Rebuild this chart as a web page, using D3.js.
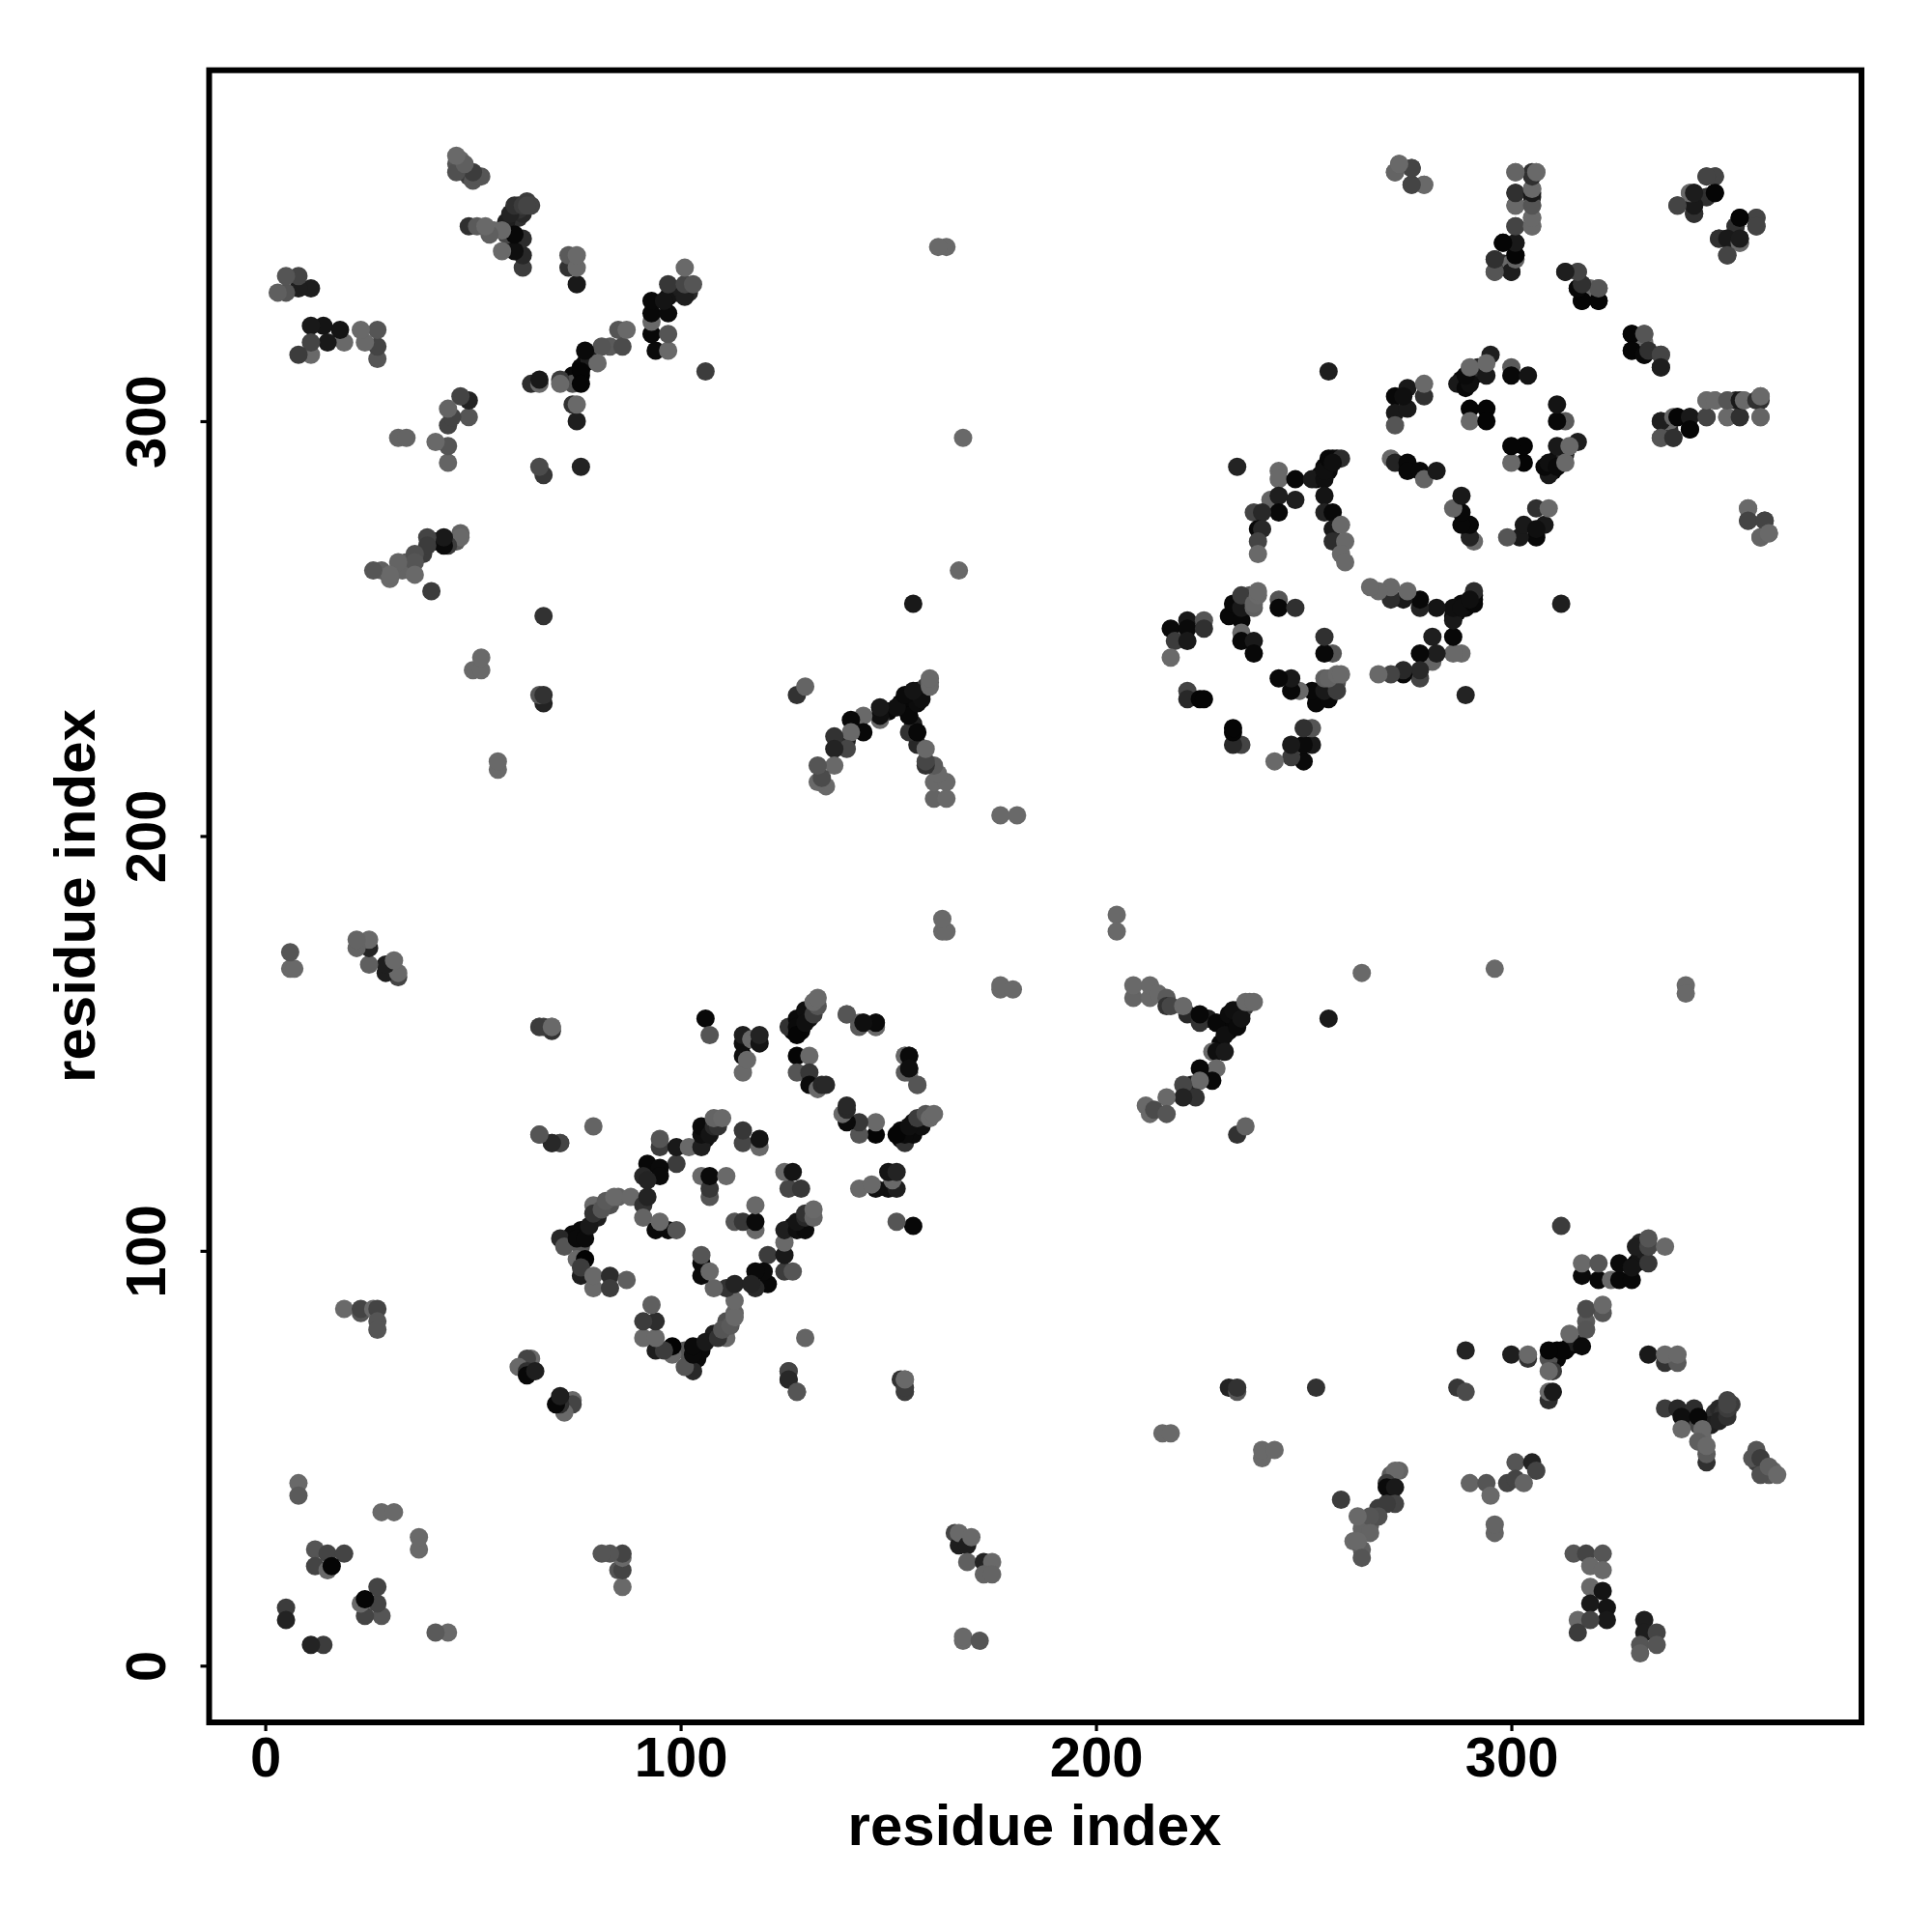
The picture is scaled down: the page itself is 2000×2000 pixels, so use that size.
<!DOCTYPE html>
<html><head><meta charset="utf-8">
<script src="https://cdn.jsdelivr.net/npm/d3@7/dist/d3.min.js"></script>
<style>html,body{margin:0;background:#fff}svg{display:block}text{font-family:"Liberation Sans",Arial,sans-serif;font-weight:700;fill:#000}</style>
</head><body><div id="chart"></div>
<script>
// [residue a, residue b, grey level]; the map is symmetric, every contact appears at (a,b) and (b,a)
const tickValues=[0,100,200,300];
const axisTitle="residue index";
const cornerContacts=[[8,44,105],[8,41,90],[28,37,105],[31,37,105],[12,28,85],[15,27,68],[19,27,68],[12,24,68],[15,23,105],[16,24,5],[5,14,60],[5,11,35],[23,85,85],[19,86,105],[23,86,68],[26,86,105],[27,86,68],[27,83,85],[27,81,85]];
const nearContacts=[[64,74,105],[63,74,68],[61,72,105],[63,71,48],[63,70,8],[65,71,30],[66,128,85],[69,126,50],[71,126,85],[79,130,100],[69,153,50],[66,154,105],[69,154,105],[126,71,68],[126,69,40],[128,66,85],[154,66,60],[154,67,60],[154,69,105]];
const denseContacts=[[73,103,15],[74,104,10],[80,108,30],[76,101,85],[83,111,80],[85,113,100],[106,127,15],[106,129,25],[127,153,5],[129,153,8],[129,155,10],[131,156,15],[132,159,40],[230,150,8],[232,153,8],[233,155,8],[229,155,8],[227,156,30],[235,157,15],[234,158,30],[236,159,60],[237,160,100],[227,142,8],[226,143,20],[223,140,30],[223,138,40],[288,310,8],[288,309,8],[289,310,15],[291,311,10],[293,312,20],[292,313,40],[253,286,10],[254,287,10],[255,289,10],[257,291,8],[256,288,10],[234,254,8],[236,255,30],[236,257,50],[237,258,85],[310,75,5],[311,76,5],[313,76,5],[314,77,8],[311,74,8],[315,78,30],[271,46,90],[273,47,100],[271,41,40],[268,38,60],[266,34,90],[264,33,100],[262,30,105],[264,28,95],[349,61,48],[350,62,40],[351,61,50],[352,61,50],[348,58,30],[353,63,60],[352,64,68],[330,97,10],[331,99,20],[331,102,40],[332,100,30],[343,60,30],[345,58,70],[346,55,105],[359,49,70],[360,48,60],[361,47,80],[362,46,85],[363,47,105]];
const sheetContacts=[[71,103,40],[72,101,85],[76,105,10],[75,103,10],[77,103,10],[78,106,25],[79,111,105],[79,109,50],[81,110,85],[82,112,90],[84,113,105],[88,113,105],[91,111,50],[92,113,35],[91,108,100],[94,105,10],[97,105,10],[95,107,105],[99,105,85],[95,125,60],[95,127,85],[99,121,60],[99,125,25],[92,121,8],[95,120,10],[91,118,40],[95,118,10],[92,117,35],[102,125,105],[105,125,30],[105,128,15],[105,130,10],[107,128,20],[108,130,40],[109,130,50],[108,132,100],[110,132,105],[105,118,105],[107,113,85],[107,115,55],[107,118,10],[111,118,105],[115,126,70],[115,129,55],[119,125,105],[119,127,20],[75,98,105],[77,98,3],[76,94,30],[76,96,60],[79,91,105],[79,94,105],[83,94,45],[83,91,60],[87,93,95]];
const strandContacts=[[106,156,8],[107,152,85],[115,150,15],[115,152,30],[115,143,105],[115,147,15],[116,146,105],[117,151,105],[119,150,20],[119,152,35],[126,154,50],[128,156,10],[128,154,10],[128,152,5],[130,158,15],[130,155,15],[132,157,60],[133,159,85],[132,160,105],[133,161,105],[128,147,5],[128,143,85],[131,147,105],[131,143,55],[131,140,10],[133,139,105],[134,140,40],[135,140,40],[140,157,85],[143,155,105],[144,155,10],[147,154,105],[147,155,15],[154,147,105],[155,147,10],[154,143,90],[155,144,15],[157,140,85]];
const yContacts=[[177,163,105],[177,164,105],[180,163,105],[209,161,100],[209,164,105],[213,161,105],[213,164,105],[215,162,105],[217,161,90],[217,159,50],[218,159,70],[222,157,40],[221,159,105],[225,155,50],[225,157,8],[229,155,8],[231,152,15],[232,157,12],[234,154,10],[233,158,15],[235,156,20],[236,160,105],[238,160,105],[228,148,105],[229,148,15],[229,144,105],[225,144,8],[231,148,25],[228,141,8],[225,141,105],[221,140,70],[224,137,50],[221,137,35],[217,137,105],[212,135,105],[213,133,105],[214,134,75],[217,133,85],[234,128,50],[236,130,100],[256,156,25]];
const lowerMidContacts=[[205,181,105],[205,177,105],[264,167,105],[296,168,105],[342,164,105],[342,162,105],[166,32,68],[167,29,30],[167,32,105],[169,29,30],[170,31,105],[169,25,95],[173,25,35],[175,25,105],[173,22,100],[175,22,100],[168,6,105],[168,7,105],[172,6,85],[232,67,35],[234,66,85],[234,67,50],[253,67,50],[216,56,105],[218,56,105],[240,50,105],[240,52,105],[243,52,105]];
const lowerRightContacts=[[312,106,60],[317,94,10],[321,93,8],[317,97,105],[321,97,85],[324,93,105],[326,93,8],[329,93,8],[326,97,10],[329,96,20],[330,101,30],[333,97,55],[333,101,70],[333,103,85],[337,101,105],[318,83,90],[318,81,85],[322,85,85],[318,86,75],[322,87,105],[314,80,105],[317,77,10],[309,74,80],[310,71,60],[309,71,105],[312,76,5],[309,76,5],[300,75,30],[304,74,50],[304,75,105],[289,76,35],[287,67,55],[289,66,75],[309,64,45],[309,66,105],[310,66,25],[333,75,25],[337,73,50],[340,73,90],[337,75,105],[340,75,105],[337,62,60],[340,62,40],[344,62,45],[341,60,15],[345,60,8],[341,57,105],[346,57,105],[345,54,95],[347,49,48],[347,51,90],[347,53,105],[350,59,35],[352,60,48],[352,62,60],[352,63,68],[358,50,85],[359,52,85],[360,50,60],[360,46,80],[362,48,95],[364,46,105],[290,44,100],[294,44,85],[295,41,105],[299,44,68],[301,49,85],[305,49,35],[306,47,68],[301,45,68],[303,44,100],[296,32,100],[296,34,100],[315,27,85],[318,27,68],[322,27,85],[319,24,105],[322,23,105],[319,19,105],[322,18,20],[323,14,20],[319,15,25],[323,11,25],[316,11,105],[319,11,68],[316,8,60],[332,11,30],[332,8,30],[335,8,68],[331,5,85],[335,5,85],[331,3,95],[272,47,105],[270,44,60],[270,43,10],[272,43,25],[272,39,68],[270,39,60],[268,36,80],[266,36,85],[263,36,105],[259,40,60],[266,32,100],[263,30,105],[264,26,85]];
const helixContacts=[[256,312,30],[234,289,35],[244,288,105],[244,286,105],[248,281,30],[248,286,8],[242,281,100],[244,282,30],[244,278,8],[238,278,68],[240,278,40],[239,274,8],[240,274,40],[239,271,68],[239,268,105],[252,286,25],[255,286,15],[255,288,15],[256,291,8],[258,291,10],[259,291,45],[257,290,15],[255,282,20],[255,278,35],[257,278,8],[257,274,25],[257,271,45],[259,275,105],[260,271,105],[259,268,105],[260,266,105],[272,306,8],[275,308,25],[279,306,48],[279,309,105],[272,302,25],[275,303,25],[272,299,85],[274,306,15],[287,309,25],[289,308,8],[290,309,15],[289,311,10],[290,313,105],[294,311,25],[295,316,30],[294,314,105],[300,313,90],[300,311,8],[304,311,20],[290,303,5],[294,303,5],[290,300,105],[294,300,5],[271,291,105],[272,290,35],[275,290,8],[275,288,8],[278,288,8],[279,286,100],[282,288,25]];
const diamondContacts=[[218,250,10],[222,252,25],[222,250,10],[226,252,85],[226,250,48],[219,247,60],[222,247,25],[218,243,105],[232,253,8],[233,256,8],[235,252,8],[235,255,25],[235,249,105],[235,258,60],[238,255,95],[238,256,100],[239,258,105],[239,259,105],[244,257,85],[244,255,8],[248,255,48],[235,247,8],[238,247,25],[238,244,8],[222,235,68],[222,233,40],[225,233,5],[226,233,5]];
const topRightContacts=[[272,360,95],[273,362,105],[276,361,68],[276,357,68],[279,357,105],[301,360,95],[305,360,48],[306,360,105],[301,355,40],[305,354,30],[305,356,105],[301,352,100],[305,352,100],[305,349,105],[305,347,105],[301,347,68],[301,343,30],[298,343,8],[301,340,8],[296,339,85],[298,338,48],[300,338,105],[300,336,25],[296,336,85],[313,336,25],[316,336,68],[316,332,8],[317,332,48],[319,332,105],[321,332,85],[317,329,8],[321,329,8],[344,355,28],[343,355,100],[347,359,68],[349,359,68],[349,355,5],[347,354,68],[340,352,68],[344,352,48],[344,350,48],[359,349,68],[359,347,68],[354,347,48],[355,349,5],[350,344,48],[352,344,25],[355,343,105],[355,344,28],[352,340,68],[329,321,5],[329,317,5],[332,321,85],[332,316,8],[333,317,48],[336,316,68],[336,313,30],[336,300,30],[336,296,85],[339,296,48],[339,301,100],[340,301,5],[343,301,25],[343,298,5],[347,301,68],[347,305,105],[349,305,105],[352,301,105],[352,305,85],[355,301,48],[355,305,25],[356,305,105],[359,305,48],[360,301,100],[360,306,105],[357,279,105],[357,276,68],[361,276,68],[360,272,100],[362,273,105]];

const contacts=[cornerContacts,nearContacts,denseContacts,sheetContacts,strandContacts,yContacts,lowerMidContacts,lowerRightContacts,helixContacts,diamondContacts,topRightContacts].flat();
const points=contacts.flatMap(([a,b,g])=>[{x:a,y:b,g},{x:b,y:a,g}]);

const x=d3.scaleLinear().domain([-13.51,384.3]).range([216.5,1927]);
const y=d3.scaleLinear().domain([-13.67,384.6]).range([1783,72.7]);
const svg=d3.select("#chart").append("svg").attr("width",2000).attr("height",2000);

svg.append("g").selectAll("circle").data(points).join("circle")
  .attr("cx",d=>x(d.x)).attr("cy",d=>y(d.y)).attr("r",9.5)
  .attr("fill",d=>d3.rgb(d.g,d.g,d.g).formatHex());

svg.append("rect").attr("x",x.range()[0]).attr("y",y.range()[1])
  .attr("width",x.range()[1]-x.range()[0]).attr("height",y.range()[0]-y.range()[1])
  .attr("fill","none").attr("stroke","#000").attr("stroke-width",6);

const gx=svg.append("g").attr("transform",`translate(0,${y.range()[0]})`)
  .call(d3.axisBottom(x).tickValues(tickValues).tickSize(9).tickSizeOuter(0).tickFormat(d3.format("d")));
const gy=svg.append("g").attr("transform",`translate(${x.range()[0]},0)`)
  .call(d3.axisLeft(y).tickValues(tickValues).tickSize(9).tickSizeOuter(0).tickFormat(d3.format("d")));
[gx,gy].forEach(g=>{g.select(".domain").remove();
  g.selectAll(".tick line").attr("stroke","#000").attr("stroke-width",3.2);
  g.selectAll(".tick text").attr("font-size",58).style("font-family",'"Liberation Sans",Arial,sans-serif').style("font-weight",700);});
gx.selectAll(".tick text").attr("y",null).attr("dy",null).attr("transform","translate(0,56)").attr("text-anchor","middle");
gy.selectAll(".tick text").attr("x",null).attr("dy",null).attr("transform","translate(-46,0) rotate(-90)").attr("text-anchor","middle");

svg.append("text").attr("x",1071).attr("y",1910).attr("text-anchor","middle").attr("font-size",60).text(axisTitle);
svg.append("text").attr("transform","translate(98,927.5) rotate(-90)").attr("text-anchor","middle").attr("font-size",60).text(axisTitle);
</script></body></html>
